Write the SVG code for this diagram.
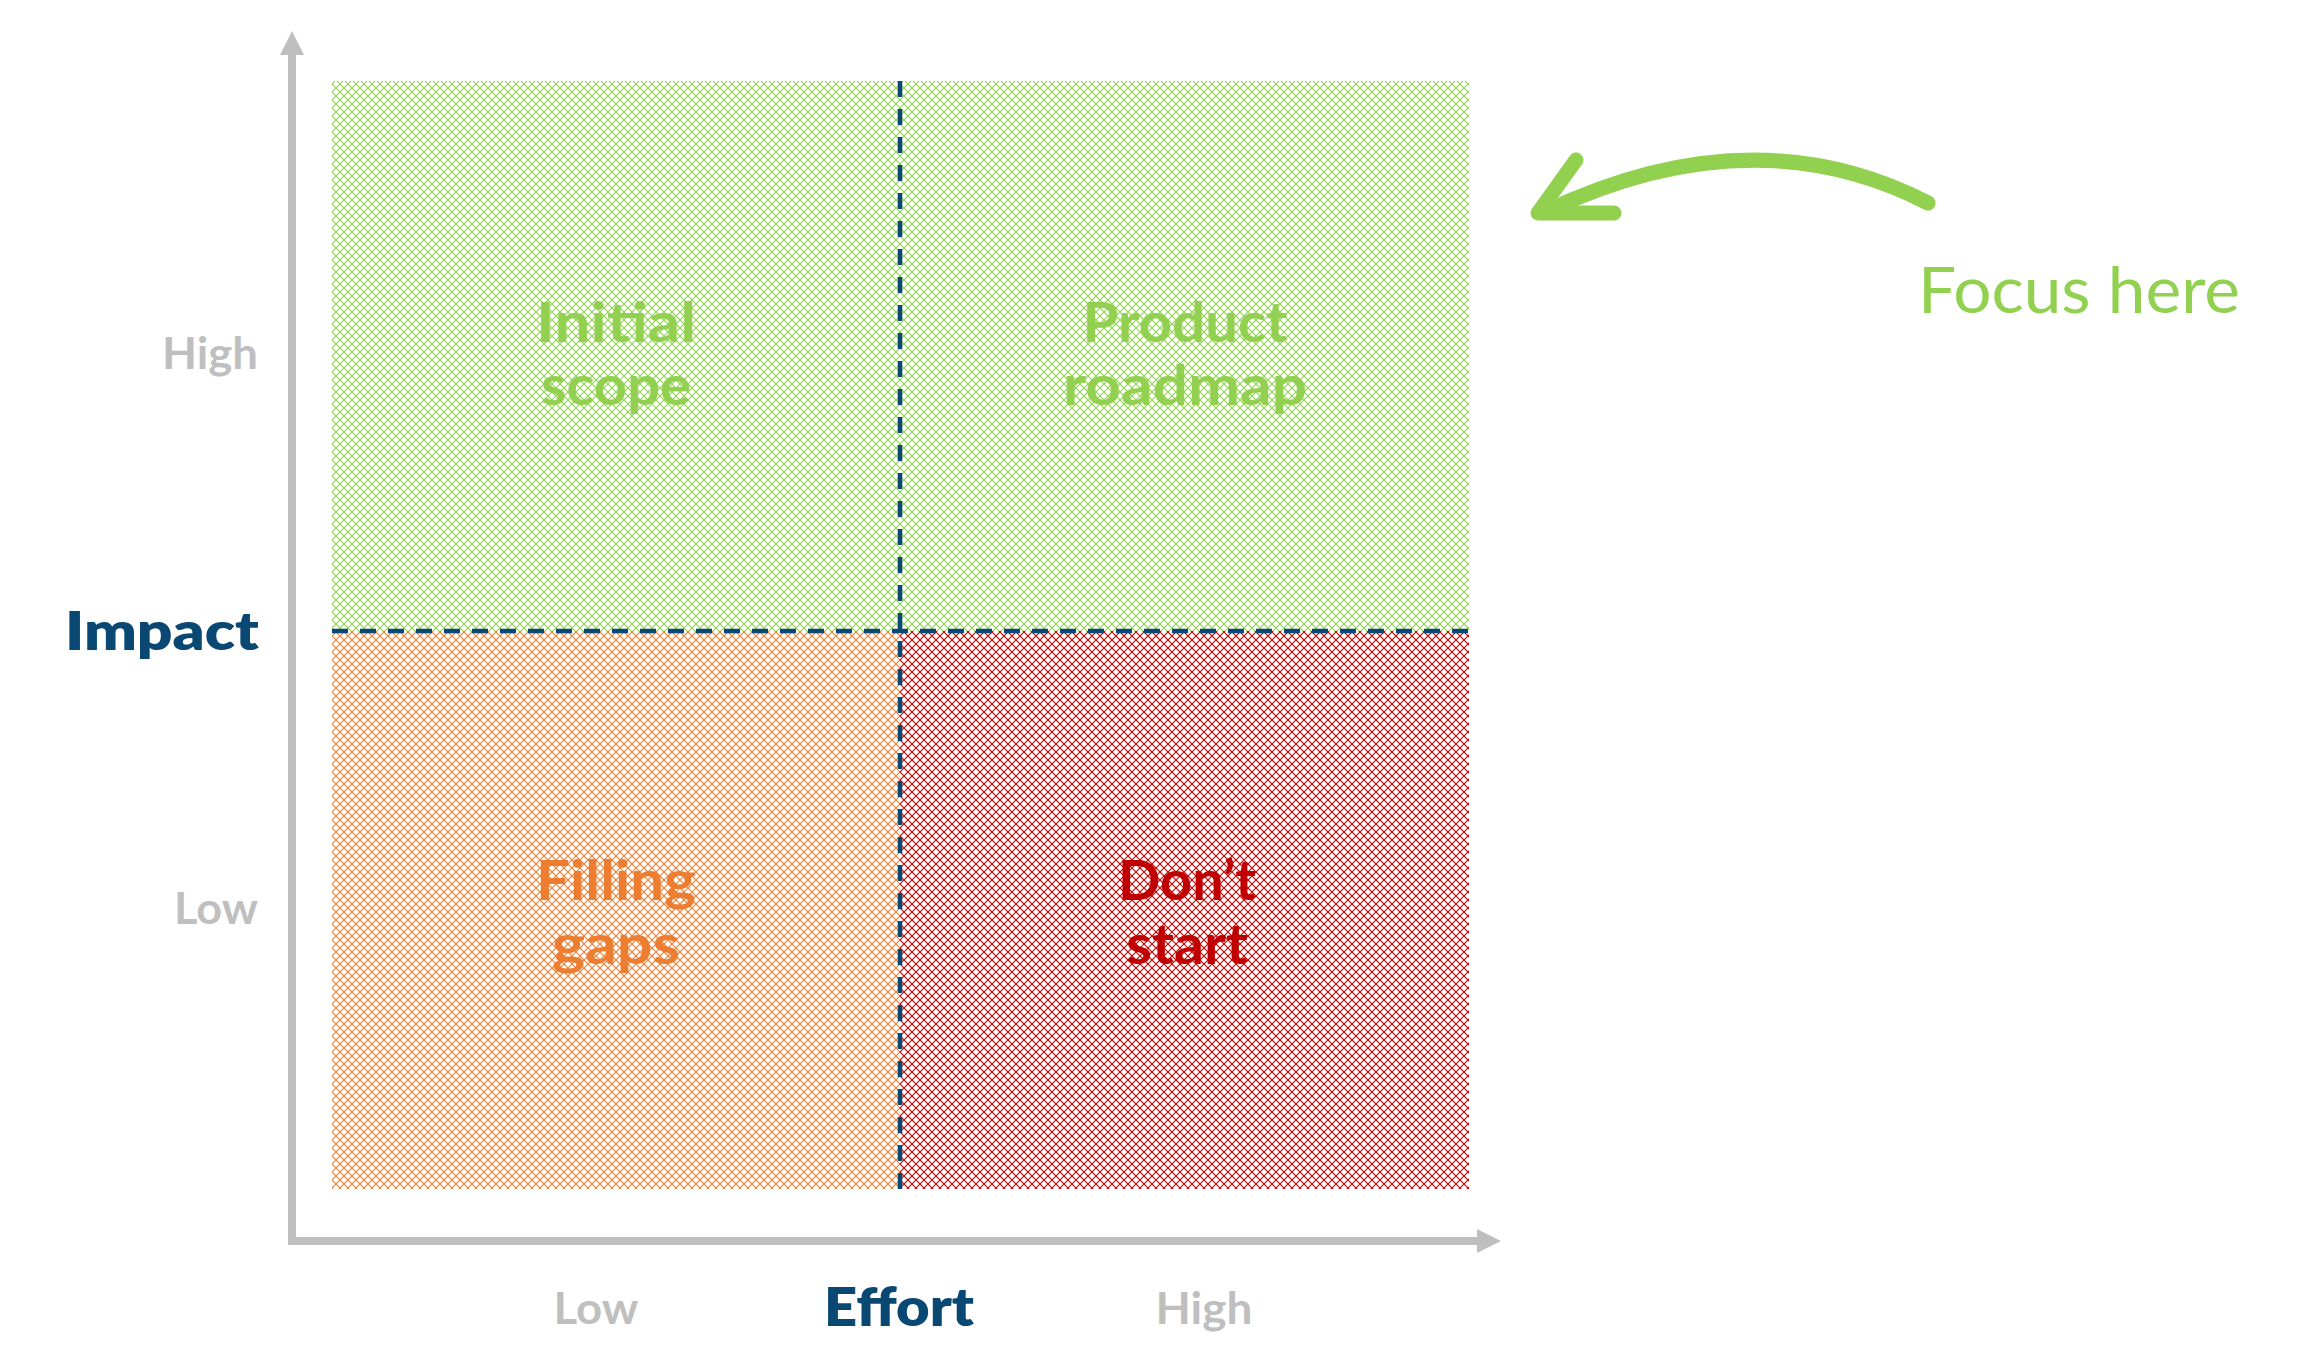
<svg xmlns="http://www.w3.org/2000/svg" width="2315" height="1360" viewBox="0 0 2315 1360">
<style>
.lbl{font-family:Lato,"Open Sans","Liberation Sans",sans-serif;font-weight:700;text-anchor:middle}
.q{font-size:56px}
.ax{font-size:44px;fill:#BFBFBF}
.axt{font-size:52px;fill:#084872;font-weight:800}
.hand{font-family:"Comic Sans MS",Lato,"Liberation Sans",sans-serif;font-size:64px;fill:#92D050}
</style>
<defs>
<pattern id="pg" width="8" height="8" patternUnits="userSpaceOnUse"><path d="M-1-1L9 9M9-1L-1 9" stroke="#92D050" stroke-width="1.1" fill="none"/></pattern>
<pattern id="po" width="8" height="8" patternUnits="userSpaceOnUse"><path d="M-1-1L9 9M9-1L-1 9" stroke="#ED7D31" stroke-width="1.1" fill="none"/></pattern>
<pattern id="pr" width="8" height="8" patternUnits="userSpaceOnUse"><path d="M-1-1L9 9M9-1L-1 9" stroke="#C00000" stroke-width="1.1" fill="none"/></pattern>
</defs>
<rect width="2315" height="1360" fill="#FFFFFF"/>

<g id="axes">
<rect x="288" y="53" width="8" height="1192" fill="#BFBFBF"/>
<polygon points="292,31 280,55 304,55" fill="#BFBFBF"/>
<rect x="288" y="1237" width="1192" height="8" fill="#BFBFBF"/>
<polygon points="1501,1241 1477,1229 1477,1253" fill="#BFBFBF"/>
</g>

<g id="quadrant-initial-scope">
<rect x="332" y="81" width="568" height="550" fill="url(#pg)"/>
<text class="lbl q" fill="#92D050" x="616" y="342" textLength="160" lengthAdjust="spacingAndGlyphs">Initial</text>
<text class="lbl q" fill="#92D050" x="616" y="405" textLength="150" lengthAdjust="spacingAndGlyphs">scope</text>
</g>
<g id="quadrant-product-roadmap">
<rect x="900" y="81" width="569" height="550" fill="url(#pg)"/>
<text class="lbl q" fill="#92D050" x="1185" y="342" textLength="205" lengthAdjust="spacingAndGlyphs">Product</text>
<text class="lbl q" fill="#92D050" x="1185" y="405" textLength="244" lengthAdjust="spacingAndGlyphs">roadmap</text>
</g>
<g id="quadrant-filling-gaps">
<rect x="332" y="631" width="568" height="558" fill="url(#po)"/>
<text class="lbl q" fill="#ED7D31" x="616" y="900" textLength="160" lengthAdjust="spacingAndGlyphs">Filling</text>
<text class="lbl q" fill="#ED7D31" x="616" y="964" textLength="128" lengthAdjust="spacingAndGlyphs">gaps</text>
</g>
<g id="quadrant-dont-start">
<rect x="900" y="631" width="569" height="558" fill="url(#pr)"/>
<text class="lbl q" fill="#C00000" x="1187" y="900" textLength="138" lengthAdjust="spacingAndGlyphs">Don’t</text>
<text class="lbl q" fill="#C00000" x="1187" y="964" textLength="122" lengthAdjust="spacingAndGlyphs">start</text>
</g>

<g id="dividers" stroke="#084872" stroke-width="4.5" stroke-dasharray="16 12" fill="none">
<line x1="900" y1="81" x2="900" y2="1189"/>
<line x1="332" y1="631" x2="1469" y2="631"/>
</g>

<g id="axis-labels">
<text class="lbl ax" x="210" y="369" textLength="96" lengthAdjust="spacingAndGlyphs">High</text>
<text class="lbl axt" x="162" y="650" textLength="194" lengthAdjust="spacingAndGlyphs">Impact</text>
<text class="lbl ax" x="216" y="924" textLength="84" lengthAdjust="spacingAndGlyphs">Low</text>
<text class="lbl ax" x="596" y="1324" textLength="85" lengthAdjust="spacingAndGlyphs">Low</text>
<text class="lbl axt" x="899" y="1326" textLength="150" lengthAdjust="spacingAndGlyphs">Effort</text>
<text class="lbl ax" x="1204" y="1324" textLength="97" lengthAdjust="spacingAndGlyphs">High</text>
</g>

<g id="connectors" stroke="#92D050" stroke-width="15" stroke-linecap="round" stroke-linejoin="round" fill="none">
<path d="M1928 203 Q1753 113 1545 212"/>
<polyline points="1576,160 1538,213 1614,213"/>
</g>

<g id="note-focus-here">
<text class="hand" x="1918" y="313" textLength="322" lengthAdjust="spacingAndGlyphs">Focus here</text>
</g>
</svg>
